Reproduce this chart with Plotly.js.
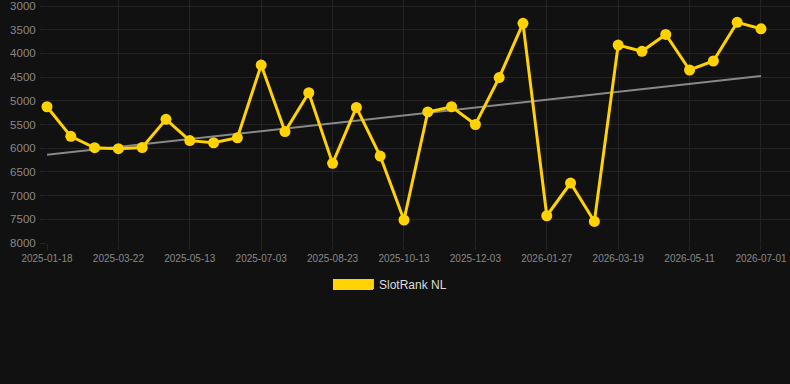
<!DOCTYPE html>
<html>
<head>
<meta charset="utf-8">
<script src="https://cdn.plot.ly/plotly-3.0.1.min.js"></script>
<style>
html,body{margin:0;padding:0;background:#111111;}
#chart{width:790px;height:384px;}
</style>
</head>
<body>
<div id="chart"></div>
<script>
var dates = ["2025-01-18","2025-02-08","2025-03-01","2025-03-22","2025-04-08","2025-04-25","2025-05-13","2025-05-30","2025-06-16","2025-07-03","2025-07-20","2025-08-06","2025-08-23","2025-09-09","2025-09-26","2025-10-13","2025-10-30","2025-11-16","2025-12-03","2025-12-21","2026-01-09","2026-01-27","2026-02-13","2026-03-02","2026-03-19","2026-04-06","2026-04-24","2026-05-11","2026-05-28","2026-06-14","2026-07-01"];
var ranks = [5125,5750,5990,6010,5985,5390,5840,5885,5780,4245,5650,4830,6320,5140,6165,7515,5235,5125,5500,4510,3365,7425,6735,7545,3825,3955,3600,4350,4160,3345,3480];
var trendX = ["2025-01-18","2026-07-01"];
var trendY = [6137,4477];
var tickLabels = ["2025-01-18","2025-03-22","2025-05-13","2025-07-03","2025-08-23","2025-10-13","2025-12-03","2026-01-27","2026-03-19","2026-05-11","2026-07-01"];
var yTicks = [3000,3500,4000,4500,5000,5500,6000,6500,7000,7500,8000];
var seriesName = "SlotRank NL";

var gold = "#FFD200";
var gridC = "#242424";

var traces = [
  {x: trendX, y: trendY, type: "scatter", mode: "lines", line: {color: "#888888", width: 2}, showlegend: false, hoverinfo: "skip"},
  {x: dates, y: ranks, type: "scatter", mode: "lines+markers", line: {color: gold, width: 3}, marker: {color: gold, size: 11}, showlegend: false, cliponaxis: false},
  {x: [null], y: [null], type: "scatter", mode: "lines", name: seriesName, line: {color: gold, width: 10}, showlegend: true}
];

var layout = {
  width: 790, height: 384,
  paper_bgcolor: "#111111", plot_bgcolor: "#111111",
  margin: {l: 47, r: 0, t: 0, b: 141},
  font: {family: "Liberation Sans, Arial, sans-serif", color: "#888888", size: 11},
  xaxis: {
    type: "category", categoryorder: "array", categoryarray: dates,
    range: [0, 31.22],
    tickvals: tickLabels, ticktext: tickLabels,
    tickfont: {size: 10, color: "#888888"},
    showgrid: true, gridcolor: gridC, gridwidth: 1,
    ticks: "outside", ticklen: 6, tickcolor: gridC,
    showline: false, zeroline: false, tickangle: 0
  },
  yaxis: {
    range: [8000, 2873],
    tickvals: yTicks,
    tickfont: {size: 11.5, color: "#888888"},
    ticklabeloverflow: "allow",
    ticklabelstandoff: 2,
    showgrid: true, gridcolor: gridC, gridwidth: 1,
    ticks: "outside", ticklen: 6, tickcolor: gridC,
    showline: false, zeroline: false
  },
  showlegend: true,
  legend: {orientation: "h", x: 0.469, xanchor: "center", y: -0.169, yanchor: "middle", font: {size: 12, color: "#dddddd"}, bgcolor: "rgba(0,0,0,0)"},
  shapes: [
    {type: "rect", xref: "paper", yref: "paper", x0: 0.3849, x1: 0.4388, y0: -0.1934, y1: -0.148, fillcolor: gold, line: {width: 0}, layer: "above"}
  ]
};

Plotly.newPlot("chart", traces, layout, {displayModeBar: false, staticPlot: true});
</script>
</body>
</html>
